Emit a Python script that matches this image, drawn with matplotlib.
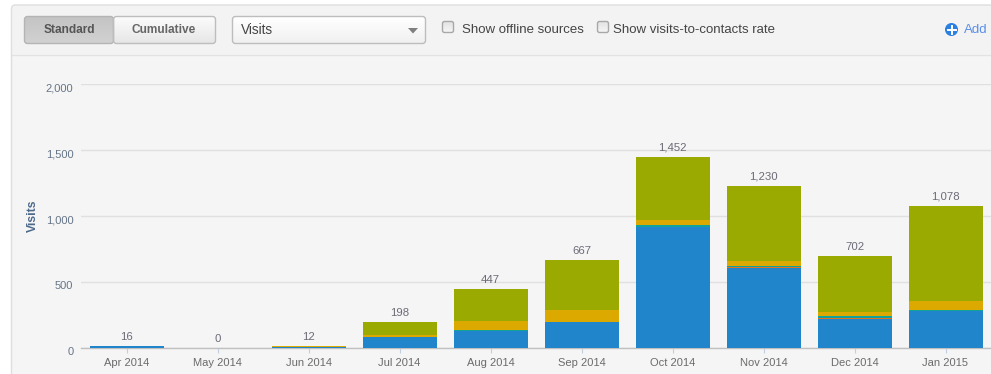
import numpy as np
import matplotlib
matplotlib.use('Agg')
import matplotlib.pyplot as plt
from matplotlib.patches import FancyBboxPatch, Rectangle, Circle, Polygon
from matplotlib.transforms import ScaledTranslation

months = ['Apr 2014', 'May 2014', 'Jun 2014', 'Jul 2014', 'Aug 2014',
          'Sep 2014', 'Oct 2014', 'Nov 2014', 'Dec 2014', 'Jan 2015']
blue = [16, 0, 7, 83, 129, 197, 920, 606, 220, 286]
orange = [0, 0, 0, 0, 0, 0, 0, 8, 10, 0]
teal = [0, 0, 0, 0, 8, 0, 15, 8, 13, 8]
gold = [0, 0, 8, 15, 68, 91, 38, 38, 30, 63]
olive = [0, 0, 0, 100, 242, 379, 479, 570, 429, 721]
totals = [16, 0, 12, 198, 447, 667, 1452, 1230, 702, 1078]
yticks = [0, 500, 1000, 1500, 2000]

series = [(blue, '#2185cb'), (orange, '#e2711d'), (teal, '#12a29c'),
          (gold, '#dca900'), (olive, '#9aaa00')]

W, H = 991, 374
plt.rcParams['font.family'] = ['Liberation Sans', 'DejaVu Sans']
fig = plt.figure(figsize=(W / 100, H / 100), dpi=100, facecolor='white')

# page chrome drawn in pixel coordinates
bg = fig.add_axes([0, 0, 1, 1], zorder=0)
bg.set_xlim(0, W)
bg.set_ylim(H, 0)
bg.axis('off')


def gradient_box(x, y, w, h, top, bottom, edge='#bdbdbd', rounding=3):
    box = FancyBboxPatch((x, y), w, h, boxstyle='round,pad=0,rounding_size=%d' % rounding,
                         fc='none', ec=edge, lw=1, zorder=3)
    bg.add_patch(box)
    c0 = np.array(matplotlib.colors.to_rgb(top))
    c1 = np.array(matplotlib.colors.to_rgb(bottom))
    t = np.linspace(0, 1, 32)[:, None, None]
    img = c0[None, None, :] * (1 - t) + c1[None, None, :] * t
    im = bg.imshow(img, extent=[x, x + w, y + h, y], aspect='auto', zorder=2)
    im.set_clip_path(box)


panel = FancyBboxPatch((11.5, 5), 1000, 400, boxstyle='round,pad=0,rounding_size=4',
                       fc='#f5f5f5', ec='#dedede', lw=1, zorder=1)
bg.add_patch(panel)
bg.add_patch(Rectangle((13, 6), 985, 48, fc='#f3f3f3', ec='none', zorder=1))
bg.plot([12, W], [54.5, 54.5], color='#e2e2e2', lw=1, zorder=1)

gradient_box(24.5, 16.5, 89, 27, '#c4c4c4', '#d2d2d2', edge='#b4b4b4')
gradient_box(113.5, 16.5, 102, 27, '#fbfbfb', '#e6e6e6')
bg.text(69, 30, 'Standard', ha='center', va='center', fontsize=8.6, fontweight='bold', color='#555555', zorder=4)
bg.text(164, 30, 'Cumulative', ha='center', va='center', fontsize=8.6, fontweight='bold', color='#666666', zorder=4)

gradient_box(232.5, 16.5, 193, 27, '#ffffff', '#f0f0f0')
bg.text(241, 29.5, 'Visits', ha='left', va='center', fontsize=9.8, color='#444444', zorder=4)
bg.add_patch(Polygon([[408, 28], [418, 28], [413, 33.5]], fc='#7f7f7f', ec='none', zorder=4))

for cx, text, tx in [(442.5, 'Show offline sources', 462), (597.5, 'Show visits-to-contacts rate', 613)]:
    gradient_box(cx, 21.5, 11, 11, '#e4e4e4', '#f6f6f6', edge='#a8a8a8', rounding=2)
    bg.text(tx, 29.5, text, ha='left', va='center', fontsize=9.5, color='#444444', zorder=4)

bg.add_patch(Circle((951.5, 29.5), 6.5, fc='#2b7fe0', ec='none', zorder=4))
bg.plot([947.5, 955.5], [29.5, 29.5], color='white', lw=1.4, zorder=5)
bg.plot([951.5, 951.5], [25.5, 33.5], color='white', lw=1.4, zorder=5)
bg.text(964, 29.5, 'Add', ha='left', va='center', fontsize=9.5, color='#5a8fe8', zorder=4)

# the chart itself
ax = fig.add_axes([81 / W, (H - 348.4) / H, (W - 81) / W, 264 / H], zorder=1)
ax.patch.set_alpha(0)
x = np.arange(len(months))
bottom = np.zeros(len(months))
for values, color in series:
    ax.bar(x, values, width=74 / 91, bottom=bottom, color=color, linewidth=0, zorder=3)
    bottom += np.array(values)

for i, total in enumerate(totals):
    ax.annotate(format(total, ','), (x[i], bottom[i]), xytext=(0, 3.0), textcoords='offset points',
                ha='center', va='bottom', fontsize=8.2, color='#6b6b78', zorder=4)

ax.set_xlim(-0.5, len(months) - 0.5)
ax.set_ylim(0, 2000)
ax.set_xticks(x)
ax.set_xticklabels(months, fontsize=8, color='#6b6b6b')
ax.set_yticks(yticks)
ax.set_yticklabels([format(v, ',') for v in yticks], fontsize=8, color='#667588')
ax.tick_params(axis='x', length=3.6, width=0.8, color='#c0d0e0', pad=3.5)
ax.tick_params(axis='y', length=0, pad=5.5)
# tick_params resets label transforms, so the shift goes after it
shift = ScaledTranslation(0, -2.2 / 72, fig.dpi_scale_trans)
for label in ax.get_yticklabels():
    label.set_transform(label.get_transform() + shift)
ax.grid(axis='y', color='#e0e0e0', lw=1, zorder=0)
ax.set_axisbelow(True)
for side in ['top', 'right', 'left']:
    ax.spines[side].set_visible(False)
ax.spines['bottom'].set_color('#c0c0c0')
ax.spines['bottom'].set_linewidth(1)

fig.text(32.5 / W, (H - 216) / H, 'Visits', rotation=90, ha='center', va='center',
         fontsize=8.8, fontweight='bold', color='#4d6a8c')

fig.savefig('out.png', dpi=100, facecolor='white')
